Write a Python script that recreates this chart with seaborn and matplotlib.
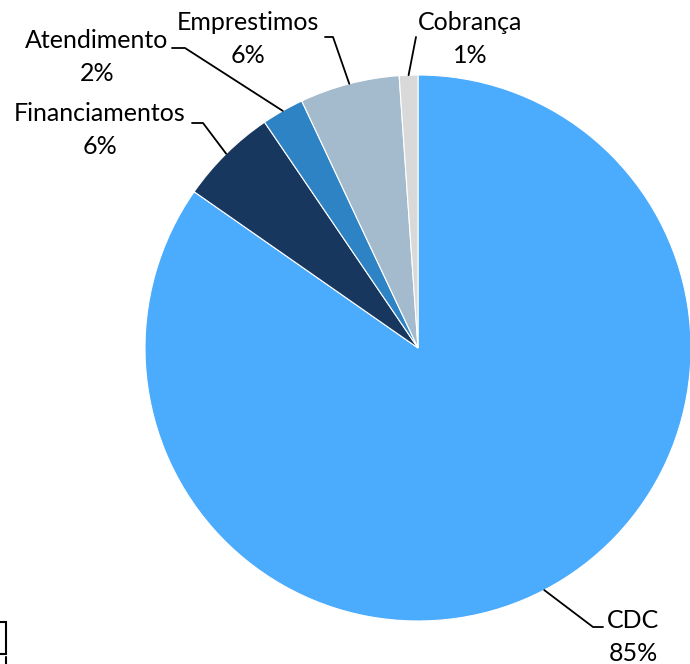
#!/usr/bin/env python3
"""Pie chart: distribuição por produto (CDC, Financiamentos, ...)."""
import matplotlib

matplotlib.use("Agg")
import matplotlib.pyplot as plt
import numpy as np
import seaborn as sns
from matplotlib.lines import Line2D
from matplotlib.patches import Rectangle

categories = ["CDC", "Financiamentos", "Atendimento", "Emprestimos", "Cobrança"]
values = [84.7, 5.8, 2.5, 5.9, 1.1]
pct_labels = ["85%", "6%", "2%", "6%", "1%"]
colors = ["#4BABFD", "#17375E", "#2E83C4", "#A3BBCC", "#D9D9D9"]

W, H = 690, 664
CX, CY, R = 418, 348, 273  # pie centre/radius in pixels


def to_data(x, y):
    return (x - CX) / R, (CY - y) / R


# label block centre, elbow and end of leader line (pixels)
label_pos = {
    "CDC": ((633, 637), [(593, 627), (603, 627)]),
    "Financiamentos": ((100, 130), [(203, 123), (192, 123)]),
    "Atendimento": ((97, 57), [(185, 48), (172, 48)]),
    "Emprestimos": ((248, 39), [(333, 37), (325, 37)]),
    "Cobrança": ((470, 39), [(416, 37)]),
}

sns.set_theme(style="white")
plt.rcParams["font.family"] = ["Lato", "DejaVu Sans"]

fig = plt.figure(figsize=(W / 100, H / 100), dpi=100)
ax = fig.add_axes([(CX - R) / W, (H - CY - R) / H, 2 * R / W, 2 * R / H])

wedges, _ = ax.pie(
    values,
    colors=colors,
    startangle=90,
    counterclock=False,
    radius=1,
    wedgeprops=dict(edgecolor="white", linewidth=0.8),
)
ax.set_xlim(-1, 1)
ax.set_ylim(-1, 1)
ax.set_aspect("equal")
ax.axis("off")

for w, cat, pct in zip(wedges, categories, pct_labels):
    mid = np.deg2rad((w.theta1 + w.theta2) / 2)
    pts = [(np.cos(mid), np.sin(mid))] + [to_data(*p) for p in label_pos[cat][1]]
    xs, ys = zip(*pts)
    ax.plot(xs, ys, color="black", lw=1.3, clip_on=False)
    tx, ty = to_data(*label_pos[cat][0])
    ax.text(tx, ty, f"{cat}\n{pct}", ha="center", va="center", fontsize=18,
            linespacing=1.5, color="black", clip_on=False)

# clipped legend frame fragment at bottom-left
fig.add_artist(Rectangle((-10 / W, 1 - 654 / H), 16 / W, 32 / H, transform=fig.transFigure,
                         fill=False, edgecolor="black", lw=1.5))
fig.add_artist(Line2D([6 / W, 6 / W], [1 - 657 / H, 0], transform=fig.transFigure,
                      color="black", lw=1.5))

fig.savefig("out.png", dpi=100)
